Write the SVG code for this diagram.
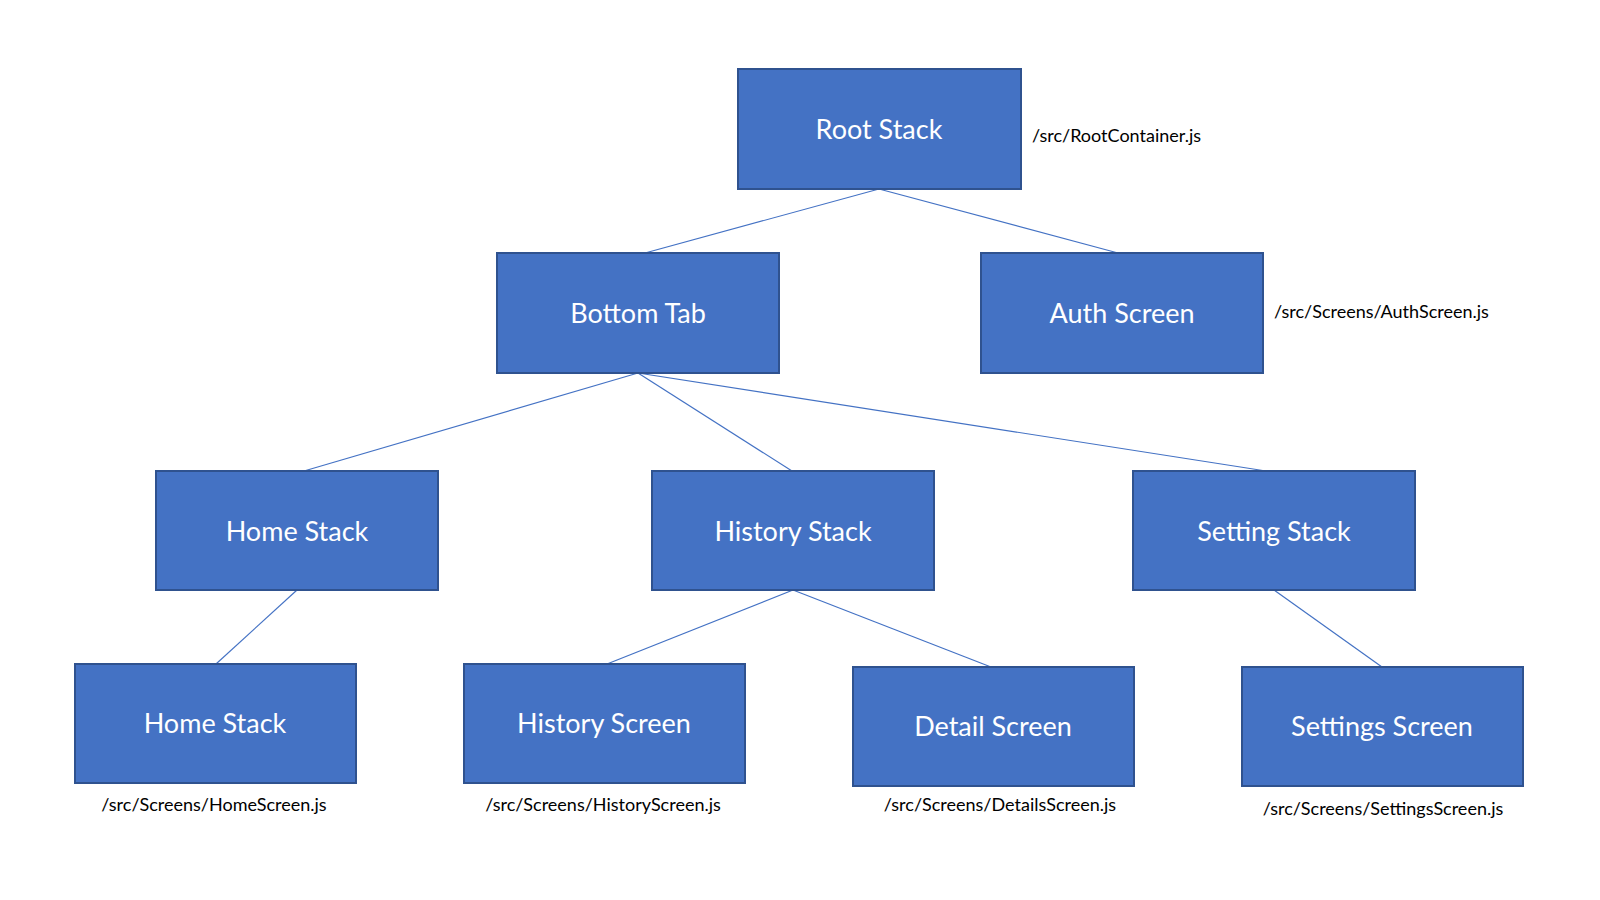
<svg xmlns="http://www.w3.org/2000/svg" width="1600" height="900" viewBox="0 0 1600 900">
<style>
.box{fill:#4472C4;stroke:#2F528F;stroke-width:2}
.lbl{font-family:Lato,"Open Sans","Liberation Sans",sans-serif;font-size:27px;fill:#FFFFFF;text-anchor:middle}
.path{font-family:Lato,"Open Sans","Liberation Sans",sans-serif;font-size:18px;fill:#000000}
.mid{text-anchor:middle}
.con line{stroke:#4472C4;stroke-width:1.2}
</style>
<rect width="1600" height="900" fill="#FFFFFF"/>
<g id="connectors" class="con">
<line x1="879" y1="189" x2="645" y2="253"/>
<line x1="879" y1="189" x2="1118" y2="253"/>
<line x1="638" y1="373" x2="304" y2="471"/>
<line x1="638" y1="373" x2="792" y2="471"/>
<line x1="638" y1="373" x2="1266" y2="471"/>
<line x1="297" y1="590" x2="216" y2="664"/>
<line x1="793" y1="590" x2="607" y2="664"/>
<line x1="793" y1="590" x2="991" y2="667"/>
<line x1="1274" y1="590" x2="1382" y2="667"/>
</g>
<g id="root-stack">
<rect class="box" x="738" y="69" width="283" height="120"/>
<text class="lbl" x="879" y="139">Root Stack</text>
<text class="path" x="1032" y="142">/src/RootContainer.js</text>
</g>
<g id="bottom-tab">
<rect class="box" x="497" y="253" width="282" height="120"/>
<text class="lbl" x="638" y="323">Bottom Tab</text>
</g>
<g id="auth-screen">
<rect class="box" x="981" y="253" width="282" height="120"/>
<text class="lbl" x="1122" y="323">Auth Screen</text>
<text class="path" x="1274" y="318">/src/Screens/AuthScreen.js</text>
</g>
<g id="home-stack">
<rect class="box" x="156" y="471" width="282" height="119"/>
<text class="lbl" x="297" y="541">Home Stack</text>
</g>
<g id="history-stack">
<rect class="box" x="652" y="471" width="282" height="119"/>
<text class="lbl" x="793" y="541">History Stack</text>
</g>
<g id="setting-stack">
<rect class="box" x="1133" y="471" width="282" height="119"/>
<text class="lbl" x="1274" y="541">Setting Stack</text>
</g>
<g id="home-stack-screen">
<rect class="box" x="75" y="664" width="281" height="119"/>
<text class="lbl" x="215" y="733">Home Stack</text>
<text class="path mid" x="214" y="811">/src/Screens/HomeScreen.js</text>
</g>
<g id="history-screen">
<rect class="box" x="464" y="664" width="281" height="119"/>
<text class="lbl" x="604" y="733">History Screen</text>
<text class="path mid" x="603" y="811">/src/Screens/HistoryScreen.js</text>
</g>
<g id="detail-screen">
<rect class="box" x="853" y="667" width="281" height="119"/>
<text class="lbl" x="993" y="736">Detail Screen</text>
<text class="path mid" x="1000" y="811">/src/Screens/DetailsScreen.js</text>
</g>
<g id="settings-screen">
<rect class="box" x="1242" y="667" width="281" height="119"/>
<text class="lbl" x="1382" y="736">Settings Screen</text>
<text class="path mid" x="1383" y="815">/src/Screens/SettingsScreen.js</text>
</g>
</svg>
